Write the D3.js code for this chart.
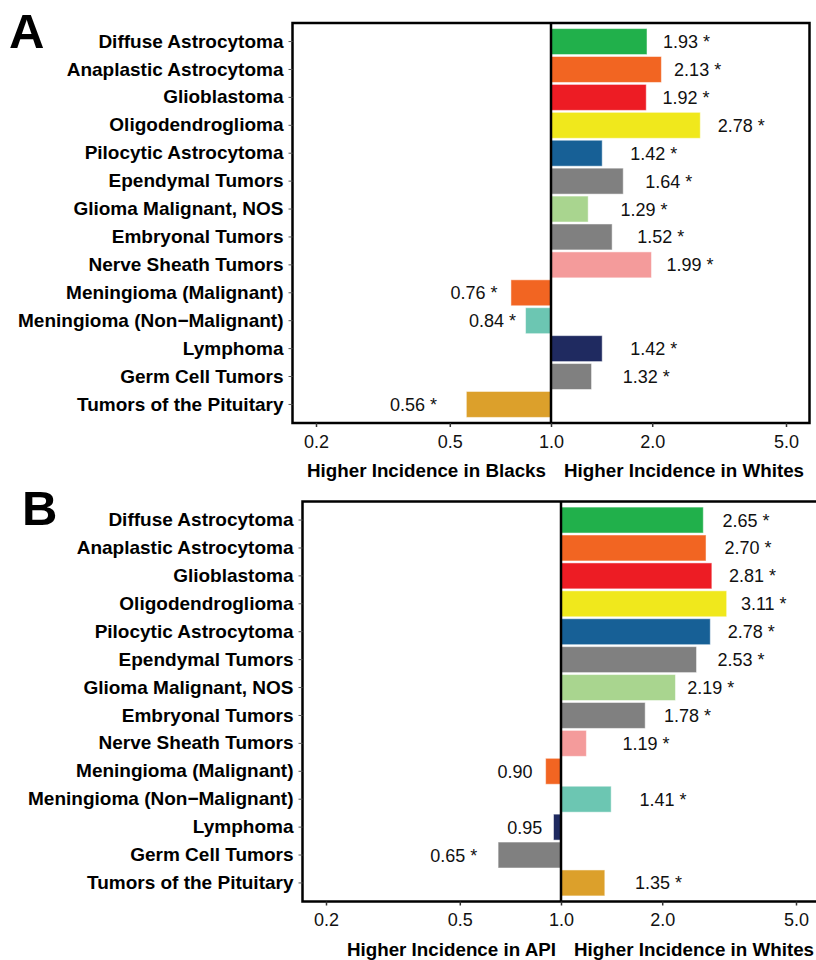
<!DOCTYPE html>
<html>
<head>
<meta charset="utf-8">
<script src="https://cdn.jsdelivr.net/npm/d3@7"></script>
<style>
  body { margin: 0; background: #fff; }
  svg { display: block; font-family: "Liberation Sans", Arial, Helvetica, sans-serif; }
</style>
</head>
<body>
<svg id="chart" width="816" height="960"></svg>
<script>
// tumour histologies, top to bottom
var categories = [
	'Diffuse Astrocytoma', 'Anaplastic Astrocytoma', 'Glioblastoma', 'Oligodendroglioma',
	'Pilocytic Astrocytoma', 'Ependymal Tumors', 'Glioma Malignant, NOS', 'Embryonal Tumors',
	'Nerve Sheath Tumors', 'Meningioma (Malignant)', 'Meningioma (Non\u2212Malignant)', 'Lymphoma',
	'Germ Cell Tumors', 'Tumors of the Pituitary'
];

// incidence rate ratios, whites vs blacks
var ratioA = [1.93, 2.13, 1.92, 2.78, 1.42, 1.64, 1.29, 1.52, 1.99, 0.76, 0.84, 1.42, 1.32, 0.56];
var sigA = [1, 1, 1, 1, 1, 1, 1, 1, 1, 1, 1, 1, 1, 1];

// incidence rate ratios, whites vs API
var ratioB = [2.65, 2.70, 2.81, 3.11, 2.78, 2.53, 2.19, 1.78, 1.19, 0.90, 1.41, 0.95, 0.65, 1.35];
var sigB = [1, 1, 1, 1, 1, 1, 1, 1, 1, 0, 1, 0, 1, 1];

var barColors = [
	'#21b04b', '#f26522', '#ed1c24', '#f0e81c', '#176096', '#808080', '#a9d58f',
	'#808080', '#f49b9b', '#f26522', '#6cc6b2', '#1f2a60', '#808080', '#dca02b'
];

var tickValues = [0.2, 0.5, 1, 2, 5];
var tickLabels = ['0.2', '0.5', '1.0', '2.0', '5.0'];

var svg = d3.select('#chart');
var lnPad = 0.05 * (Math.log(5) - Math.log(0.2));

drawPanel = function(opt) {
	var W = 517, H = 400;
	var g = svg.append('g')
		.attr('transform', 'translate(' + opt.left + ',' + opt.top + ')');

	var x = d3.scaleLog()
		.domain([0.2 * Math.exp(-lnPad), 5 * Math.exp(lnPad)])
		.range([0, W]);

	var y = d3.scaleBand()
		.domain(categories)
		.range([0, H])
		.paddingInner(0.07)
		.paddingOuter(0.2);

	var rows = categories.map(function(c, i) {
		return {name: c, v: opt.values[i], sig: opt.sig[i], color: barColors[i]};
	});

	// bars
	g.selectAll('rect.bar').data(rows).enter().append('rect')
		.attr('class', 'bar')
		.attr('x', function(d) { return Math.min(x(d.v), x(1)); })
		.attr('y', function(d) { return y(d.name); })
		.attr('width', function(d) { return Math.abs(x(d.v) - x(1)); })
		.attr('height', y.bandwidth())
		.style('fill', function(d) { return d.color; })
		.style('stroke', '#fff')
		.style('stroke-opacity', 0.5)
		.style('stroke-width', 1);

	// value labels
	g.selectAll('text.val').data(rows).enter().append('text')
		.attr('class', 'val')
		.attr('text-anchor', 'middle')
		.attr('x', function(d) {
			if (d.v < 1) return x(d.v - 0.17);
			return x(d.v + (d.v > 2.5 ? 0.9 : 0.6));
		})
		.attr('y', function(d) { return y(d.name) + y.bandwidth() / 2 + 6.5; })
		.style('font-size', '18px')
		.style('fill', '#111')
		.text(function(d) { return d.v.toFixed(2) + (d.sig ? ' *' : ''); });

	// reference line at 1
	g.append('line')
		.attr('x1', x(1)).attr('x2', x(1))
		.attr('y1', 0).attr('y2', H)
		.style('stroke', '#000')
		.style('stroke-width', 2.5);

	// frame
	g.append('rect')
		.attr('width', W).attr('height', H)
		.style('fill', 'none')
		.style('stroke', '#000')
		.style('stroke-width', 2.5);

	// y axis
	var yAxis = g.append('g')
		.call(d3.axisLeft(y).tickSize(4).tickPadding(5));
	yAxis.select('.domain').remove();
	yAxis.selectAll('line').style('stroke', '#555');
	yAxis.selectAll('text')
		.style('font-size', '19px')
		.style('font-weight', 'bold')
		.style('fill', '#000')
		.style('font-family', '"Liberation Sans", Arial, sans-serif');

	// x axis
	var xAxis = g.append('g')
		.attr('transform', 'translate(0,' + H + ')')
		.call(d3.axisBottom(x).tickValues(tickValues)
			.tickFormat(function(d, i) { return tickLabels[i]; })
			.tickSize(4).tickPadding(8));
	xAxis.select('.domain').remove();
	xAxis.selectAll('line').style('stroke', '#333').style('stroke-width', 1.5);
	xAxis.selectAll('text')
		.style('font-size', '18px')
		.style('fill', '#111')
		.style('font-family', '"Liberation Sans", Arial, sans-serif');

	// captions either side of 1
	g.append('text')
		.attr('text-anchor', 'end')
		.attr('x', x(1) - 5)
		.attr('y', H + 54)
		.style('font-size', '18.8px')
		.style('font-weight', 'bold')
		.text(opt.leftCaption);

	g.append('text')
		.attr('text-anchor', 'start')
		.attr('x', x(1) + 13)
		.attr('y', H + 54)
		.style('font-size', '18.8px')
		.style('font-weight', 'bold')
		.text('Higher Incidence in Whites');

	// panel letter
	svg.append('text')
		.attr('x', opt.letterX)
		.attr('y', opt.letterY)
		.style('font-size', '49px')
		.style('font-weight', 'bold')
		.text(opt.letter);
};

drawPanel({left: 292.5, top: 23, values: ratioA, sig: sigA,
	leftCaption: 'Higher Incidence in Blacks', letter: 'A', letterX: 9, letterY: 48});
drawPanel({left: 302.5, top: 501.5, values: ratioB, sig: sigB,
	leftCaption: 'Higher Incidence in API', letter: 'B', letterX: 22, letterY: 525});
</script>
</body>
</html>
